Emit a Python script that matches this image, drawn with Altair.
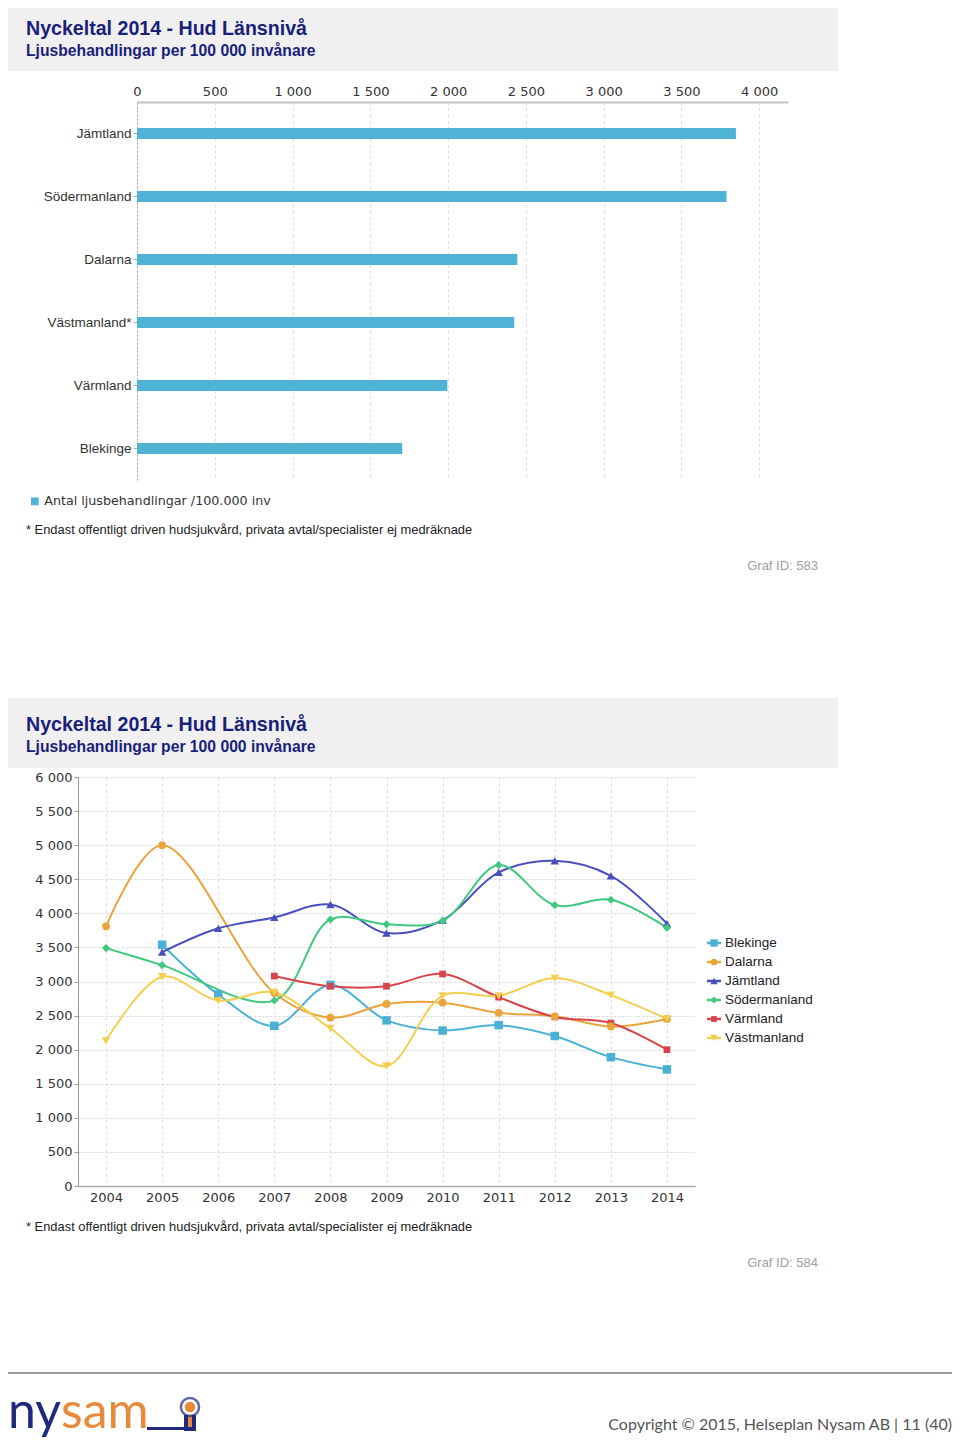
import altair as alt
import pandas as pd

# ---------------- data: bar chart ----------------
regions = ["Jämtland", "Södermanland", "Dalarna", "Västmanland*", "Värmland", "Blekinge"]
bar_values = [3850, 3790, 2445, 2425, 1995, 1705]
bar_ticks = [0, 500, 1000, 1500, 2000, 2500, 3000, 3500, 4000]
bar_series = "Antal ljusbehandlingar /100.000 inv"

# ---------------- data: line chart ----------------
years = [2004, 2005, 2006, 2007, 2008, 2009, 2010, 2011, 2012, 2013, 2014]
series = ["Blekinge", "Dalarna", "Jämtland", "Södermanland", "Värmland", "Västmanland"]
blekinge = [None, 3540, 2810, 2350, 2950, 2430, 2280, 2360, 2200, 1890, 1710]
dalarna = [3810, 5000, None, 2830, 2470, 2670, 2690, 2540, 2490, 2340, 2450]
jamtland = [None, 3430, 3780, 3940, 4130, 3710, 3900, 4600, 4770, 4550, 3850]
sodermanland = [3490, 3240, None, 2720, 3910, 3840, 3890, 4710, 4120, 4200, 3790]
varmland = [None, None, None, 3080, 2930, 2930, 3110, 2770, 2480, 2390, 2000]
vastmanland = [2130, 3070, 2720, 2840, 2310, 1760, 2790, 2790, 3050, 2800, 2450]
y_ticks = [0, 500, 1000, 1500, 2000, 2500, 3000, 3500, 4000, 4500, 5000, 5500, 6000]

colors = ["#4bb1d4", "#e9a43c", "#4a4fc0", "#3ec97e", "#d8444b", "#f2cf50"]

title_text = "Nyckeltal 2014 - Hud Länsnivå"
subtitle_text = "Ljusbehandlingar per 100 000 invånare"
footnote_text = "* Endast offentligt driven hudsjukvård, privata avtal/specialister ej medräknade"
copyright_text = "Copyright © 2015, Helseplan Nysam AB  |  11 (40)"

NAVY = "#1a1f7a"
FMT = "replace(format(datum.value, ','), ',', ' ')"

one = pd.DataFrame({"a": [1]})


def txt(x, y, s, size, color="#333333", weight="normal", align="left",
        font="Liberation Sans", baseline="middle"):
    return alt.Chart(one).mark_text(
        text=s, align=align, baseline=baseline, font=font, fontSize=size,
        fontWeight=weight, color=color
    ).encode(x=alt.value(x), y=alt.value(y))


def rect(x, x2, y, y2, color, opacity=1):
    return alt.Chart(one).mark_rect(color=color, opacity=opacity).encode(
        x=alt.value(x), x2=alt.value(x2), y=alt.value(y), y2=alt.value(y2)
    )


# ---------------- panel 1: bar chart (plot origin shared with panel 2) ----------------
bar_df = pd.DataFrame({"region": regions, "value": bar_values})
bar_df["serie"] = bar_series

bars = alt.Chart(bar_df).mark_bar(size=11).encode(
    x=alt.X("value:Q",
            scale=alt.Scale(domain=[0, 4185], nice=False, range=[59, 710]),
            axis=alt.Axis(orient="top", values=bar_ticks, labelExpr=FMT, grid=True,
                          gridDash=[3, 3], gridColor="#dddddd", domainColor="#c4c4c4",
                          domainWidth=2, ticks=False, labelFont="DejaVu Sans",
                          labelFontSize=13, labelColor="#333333", labelPadding=4,
                          labelFlush=False, title=None)),
    y=alt.Y("region:N", sort=regions,
            scale=alt.Scale(paddingInner=0, paddingOuter=0),
            axis=alt.Axis(title=None, labelFont="Liberation Sans", labelFontSize=13.5,
                          labelColor="#333333", tickSize=4, tickColor="#aaaaaa",
                          labelPadding=2, domainColor="#aaaaaa", domainDash=[2, 2],
                          grid=False, offset=-59)),
    color=alt.Color("serie:N",
                    scale=alt.Scale(domain=[bar_series], range=["#4fb3d6"]),
                    legend=alt.Legend(orient="none", legendX=-49.5, legendY=393,
                                      title=None, symbolType="square", symbolSize=60,
                                      symbolStrokeWidth=0, labelFont="DejaVu Sans",
                                      labelFontSize=12.7, labelColor="#333333",
                                      labelOffset=3, padding=0, labelLimit=400)),
)

bar_panel = alt.layer(
    rect(-70, 874, -94, 596, "white", 0),
    rect(-70, 760, -94, -31, "#f0f0f0"),
    txt(-52, -73, title_text, 19.6, NAVY, "bold"),
    txt(-52, -51, subtitle_text, 15.7, NAVY, "bold"),
    bars,
    txt(-52, 428, footnote_text, 12.9, "#222222"),
    txt(740, 464, "Graf ID: 583", 13, "#a0a0a0", align="right"),
).properties(width=710, height=378)

# ---------------- panel 2: line chart ----------------
rows = []
for name, vals in zip(series, [blekinge, dalarna, jamtland, sodermanland, varmland, vastmanland]):
    for yr, v in zip(years, vals):
        if v is not None:
            rows.append({"serie": name, "year": yr, "value": v})
line_df = pd.DataFrame(rows)

x_enc = alt.X("year:O",
              scale=alt.Scale(type="point", padding=0.5, domain=years),
              axis=alt.Axis(title=None, labelAngle=0, grid=True, gridDash=[3, 3],
                            gridColor="#dddddd", domainColor="#aaaaaa", domainWidth=1.5,
                            ticks=False, labelFont="DejaVu Sans", labelFontSize=13,
                            labelColor="#333333", labelPadding=5))
y_enc = alt.Y("value:Q",
              scale=alt.Scale(domain=[0, 6000], nice=False),
              axis=alt.Axis(title=None, values=y_ticks, labelExpr=FMT, grid=True,
                            gridDash=[2, 2], gridColor="#d4d4d4", domainColor="#999999",
                            tickSize=4, tickColor="#999999", labelFont="DejaVu Sans",
                            labelFontSize=13, labelColor="#333333", labelPadding=2,
                            labelFlush=False))
color_scale = alt.Scale(domain=series, range=colors)
col_enc = alt.Color("serie:N", scale=color_scale, legend=None)

marker_groups = [
    (["Blekinge"], "square", 72),
    (["Värmland"], "square", 45),
    (["Dalarna"], "circle", 60),
    (["Jämtland"], "triangle-up", 72),
    (["Södermanland"], "diamond", 65),
    (["Västmanland"], "triangle-down", 72),
]

base = alt.Chart(line_df)
lines = base.mark_line(interpolate="catmull-rom", strokeWidth=2).encode(
    x=x_enc, y=y_enc, color=col_enc
)
markers = [
    base.transform_filter(alt.FieldOneOfPredicate(field="serie", oneOf=names))
    .mark_point(shape=shp, size=sz, filled=True, opacity=1)
    .encode(x=x_enc, y=y_enc, color=col_enc)
    for names, shp, sz in marker_groups
]
plot_group = alt.layer(lines, *markers)

# legend (line stub + marker + label), one row per series
leg_df = pd.DataFrame({"serie": series})
leg_y = alt.Y("serie:N", scale=alt.Scale(type="point", domain=series, range=[166, 261],
                                         padding=0), axis=None)
leg_base = alt.Chart(leg_df)
leg_stub = leg_base.mark_rule(strokeWidth=2.5).encode(
    x=alt.value(629), x2=alt.value(643), y=leg_y, color=col_enc
)
leg_marks = [
    leg_base.transform_filter(alt.FieldOneOfPredicate(field="serie", oneOf=names))
    .mark_point(shape=shp, size=sz * 0.75, filled=True, opacity=1)
    .encode(x=alt.value(636), y=leg_y, color=col_enc)
    for names, shp, sz in marker_groups
]
leg_text = leg_base.mark_text(align="left", baseline="middle", font="Liberation Sans",
                              fontSize=13.5, color="#222222").encode(
    x=alt.value(647), y=leg_y, text="serie:N"
)
legend_group = alt.layer(leg_stub, *leg_marks, leg_text)

logo = [
    txt(-70, 651, "ny", 50, "#1f2a7c", font="Lato", baseline="alphabetic"),
    txt(-17, 651, "sam", 50, "#e98a3b", font="Lato", baseline="alphabetic"),
    rect(69, 108, 650, 653, "#1f2a7c"),
    rect(106, 118, 638, 654, "#1f2a7c"),
    rect(110, 114, 638, 650, "#e98a3b"),
    alt.Chart(one).mark_point(shape="circle", size=330, filled=False, stroke="#1f2a7c",
                              strokeWidth=2.5).encode(x=alt.value(112), y=alt.value(630)),
    alt.Chart(one).mark_point(shape="circle", size=110, filled=True, color="#e98a3b",
                              opacity=1).encode(x=alt.value(112), y=alt.value(630)),
]

line_panel = alt.layer(
    rect(-70, 874, -79, 660, "white", 0),
    rect(-70, 760, -79, -9, "#f0f0f0"),
    txt(-52, -52, title_text, 19.6, NAVY, "bold"),
    txt(-52, -30, subtitle_text, 15.7, NAVY, "bold"),
    plot_group,
    legend_group,
    txt(-52, 450, footnote_text, 12.9, "#222222"),
    txt(740, 486, "Graf ID: 584", 13, "#a0a0a0", align="right"),
    rect(-70, 874, 595, 597, "#9a9a9a"),
    *logo,
    txt(874, 648, copyright_text, 16, "#555555", font="Lato", align="right"),
).resolve_scale(y="independent").properties(width=617, height=409)

chart = alt.vconcat(bar_panel, line_panel, spacing=0).resolve_scale(
    color="independent", shape="independent", x="independent", y="independent"
).resolve_legend(
    color="independent"
).resolve_axis(
    x="independent", y="independent"
).properties(padding=0).configure_view(stroke=None)

chart.save("out.html", embed_options={"renderer": "svg", "actions": False})
